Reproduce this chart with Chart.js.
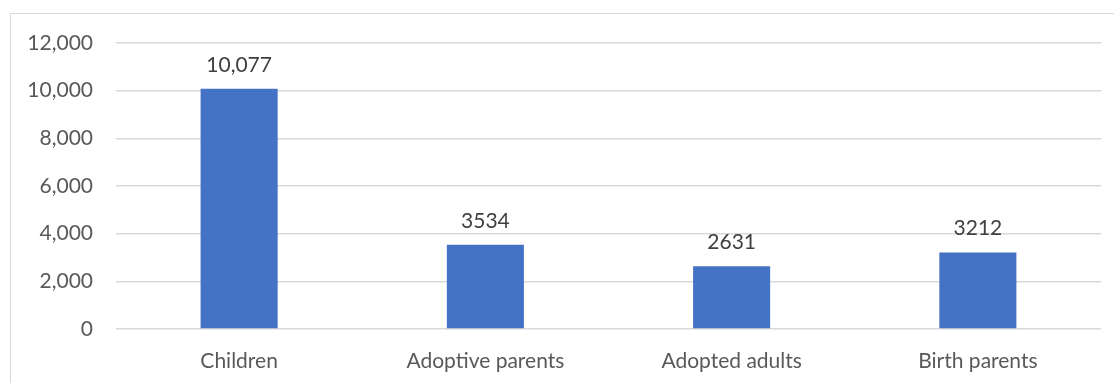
<!DOCTYPE html>
<html>
<head>
<meta charset="utf-8">
<script src="https://cdn.jsdelivr.net/npm/chart.js@4"></script>
<style>
  html, body { margin: 0; padding: 0; background: #fff; overflow: hidden; }
  #wrap { position: relative; width: 1114px; height: 383px; }
  #frame { position: absolute; left: 10px; top: 13px; width: 1120px; height: 400px;
           border: 1px solid #d9d9d9; box-sizing: border-box; pointer-events: none; }
  canvas { position: absolute; left: 0; top: 0; }
</style>
</head>
<body>
<div id="wrap">
  <canvas id="c" width="1114" height="383"></canvas>
  <div id="frame"></div>
</div>
<script>
// Participants by group
const categories = ['Children', 'Adoptive parents', 'Adopted adults', 'Birth parents'];
const counts = [10077, 3534, 2631, 3212];
const countLabels = ['10,077', '3534', '2631', '3212'];
const yTicks = [0, 2000, 4000, 6000, 8000, 10000, 12000];

const FONT = 'Lato, "Open Sans", sans-serif';
const TEXT = '#595959';
const SIZE = 21;

// Writes each bar's count centred above it
const barLabels = {
  id: 'barLabels',
  afterDatasetsDraw(chart) {
    const ctx = chart.ctx;
    const meta = chart.getDatasetMeta(0);
    ctx.save();
    ctx.font = SIZE + 'px ' + FONT;
    ctx.fillStyle = '#404040';
    ctx.textAlign = 'center';
    ctx.textBaseline = 'middle';
    meta.data.forEach((bar, i) => {
      ctx.fillText(countLabels[i], bar.x, bar.y - 24);
    });
    ctx.restore();
  }
};

new Chart(document.getElementById('c'), {
  type: 'bar',
  data: {
    labels: categories,
    datasets: [{
      data: counts,
      backgroundColor: '#4472C4',
      categoryPercentage: 1,
      barPercentage: 0.313
    }]
  },
  options: {
    responsive: false,
    animation: false,
    devicePixelRatio: 1,
    layout: { padding: { left: 0, top: 43, right: 13, bottom: 0 } },
    plugins: { legend: { display: false }, tooltip: { enabled: false } },
    scales: {
      x: {
        grid: { display: false },
        border: { display: false },
        ticks: { color: TEXT, font: { family: FONT, size: SIZE }, padding: 12 },
        afterFit(s) { s.height = 54; }
      },
      y: {
        min: 0, max: 12000,
        afterBuildTicks(s) { s.ticks = yTicks.map(v => ({ value: v })); },
        grid: { color: '#d9d9d9', lineWidth: 1.5, drawTicks: false },
        border: { display: false },
        ticks: {
          color: TEXT, font: { family: FONT, size: SIZE }, padding: 23,
          callback: v => v.toLocaleString('en-US')
        },
        afterFit(s) { s.width = 116; }
      }
    }
  },
  plugins: [barLabels]
});
</script>
</body>
</html>
